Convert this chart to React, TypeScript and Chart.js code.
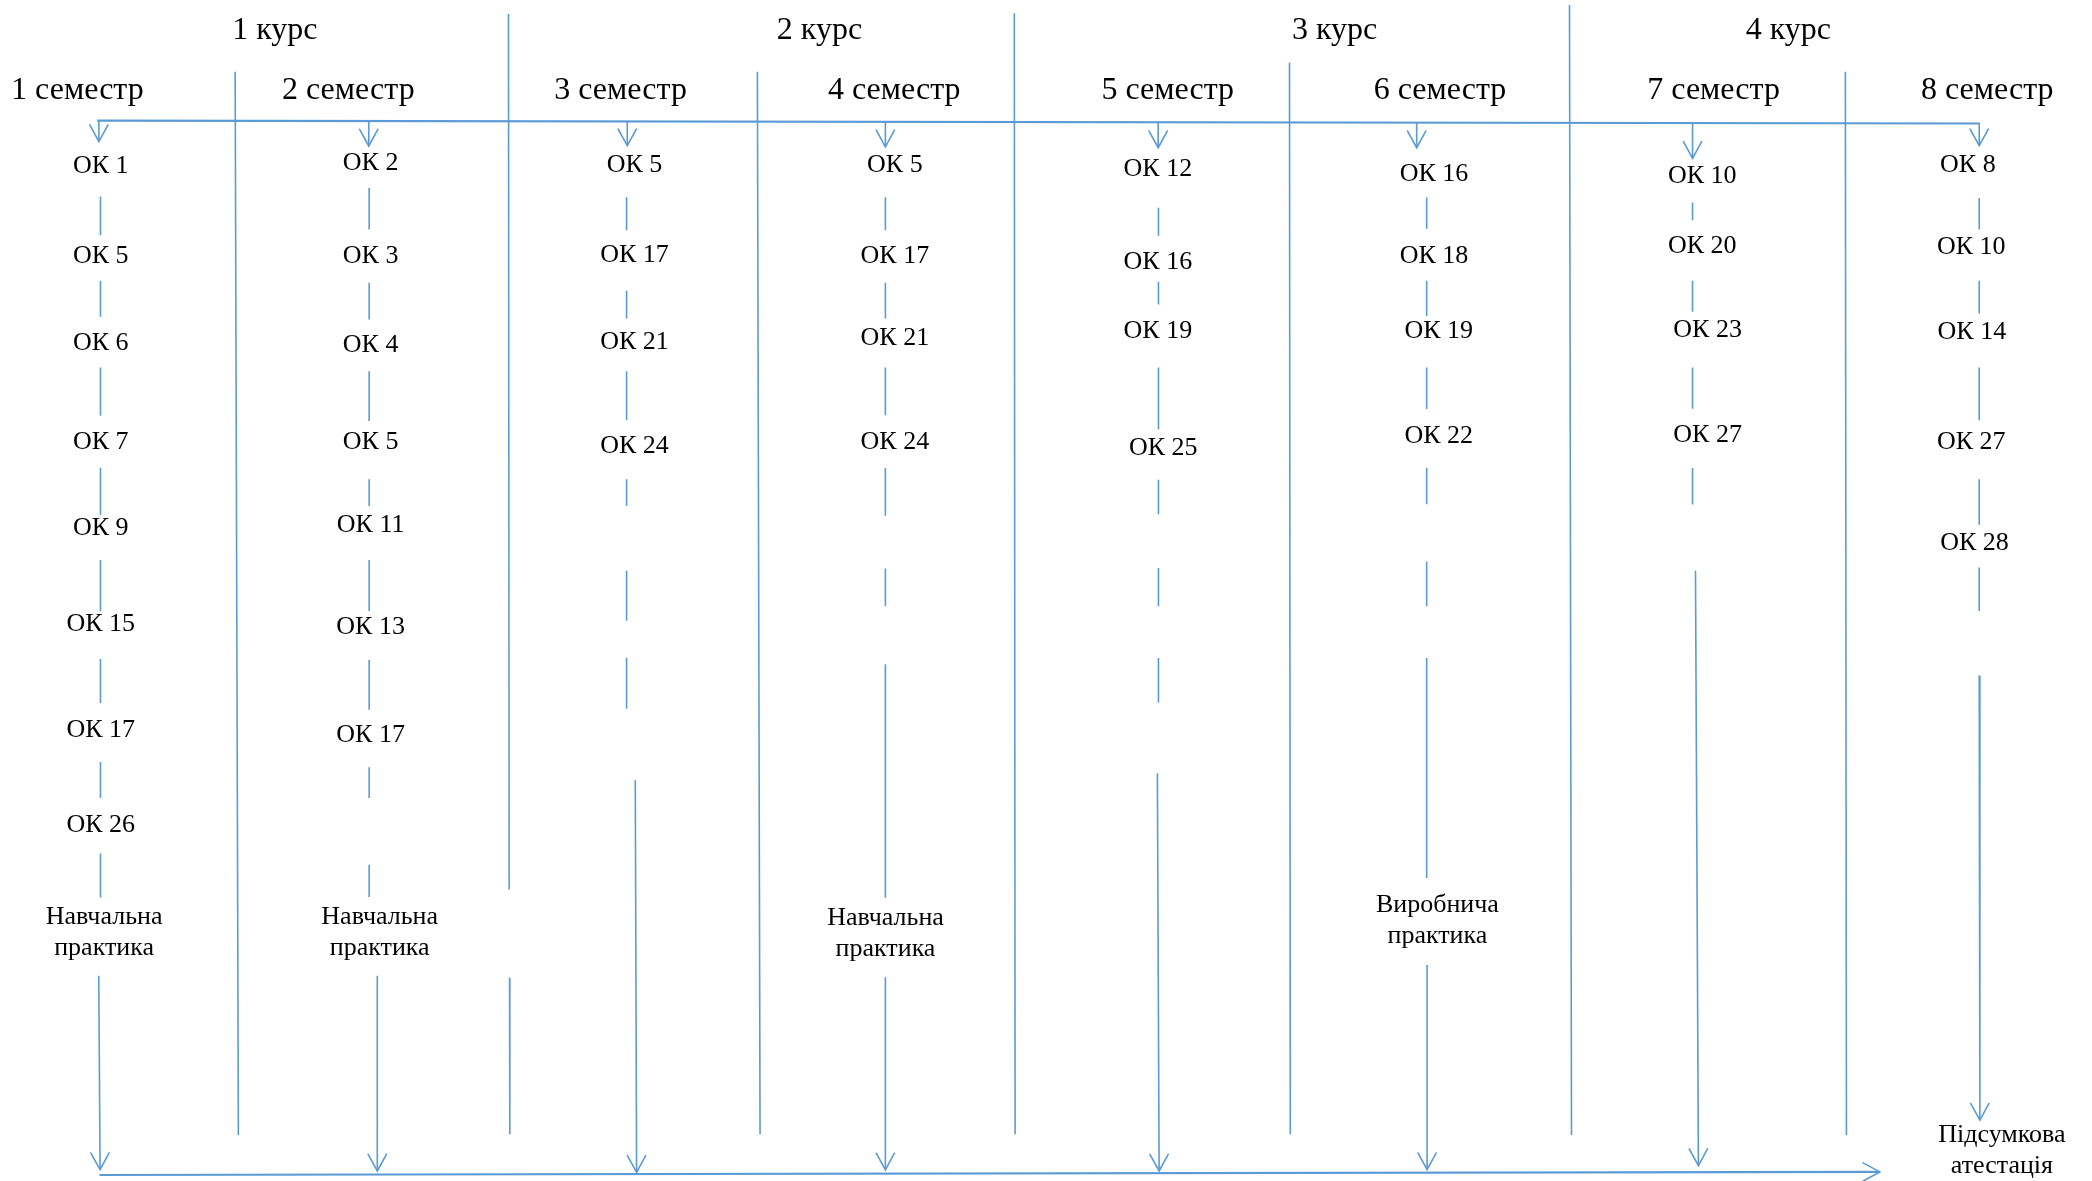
import { useEffect, useRef } from "react";
import { Chart, registerables } from "chart.js";

Chart.register(...registerables);

// Diagram coordinate space (units of the layout grid)
const VIEW_W = 1567.5;
const VIEW_H = 883.5;

// ---------- headers ----------
const courses = ["1 курс", "2 курс", "3 курс", "4 курс"];
const courseLabelX = [206, 614, 1000, 1340];
const courseLabelY = 23;

const semesters = ["1 семестр", "2 семестр", "3 семестр", "4 семестр", "5 семестр", "6 семестр", "7 семестр", "8 семестр"];
const semesterLabelX = [58, 261, 465, 670, 875, 1079, 1284, 1489];
const semesterLabelY = 67.5;

// ---------- dividers: [xTop, yTop, xBottom, yBottom] ----------
const courseDividers = [
  [381, 10.5, 381.5, 665.4],
  [381.8, 731.4, 382, 848.5],
  [760, 10, 760.6, 848.6],
  [1176, 3.7, 1177.5, 849],
];
const semesterDividers = [
  [176.2, 53.6, 178.6, 849],
  [567.5, 53.6, 569.5, 848.5],
  [966.2, 47, 966.8, 848.6],
  [1382.7, 53.6, 1383.5, 849],
];

// ---------- flow lines ----------
const topLine = [72.8, 90.3, 1483.5, 92.4];
const bottomLine = [74.5, 879, 1408.5, 876.7];

// ---------- semester columns ----------
const columnX = [75.3, 276.6, 469.5, 663.4, 868, 1069, 1268.2, 1483];
const topArrowX = [74.1, 276.3, 470, 663.4, 867.8, 1061.5, 1268.2, 1483];
const topArrowTipY = [105.9, 109.2, 109, 109.8, 110.5, 110.5, 118.5, 109];

const sem1Subjects = ["ОК 1", "ОК 5", "ОК 6", "ОК 7", "ОК 9", "ОК 15", "ОК 17", "ОК 26"];
const sem1Y = [124.5, 192, 256.5, 330.6, 395, 467, 546, 617];
const sem1X = [75.5, 75.5, 75.5, 75.5, 75.5, 75.5, 75.5, 75.5];
const sem1Links = [[147, 176], [210, 237], [275, 311], [350, 385], [419, 457], [493, 526], [570, 597], [638.5, 671.5]];

const sem2Subjects = ["ОК 2", "ОК 3", "ОК 4", "ОК 5", "ОК 11", "ОК 13", "ОК 17"];
const sem2Y = [122, 192, 258, 330.6, 393, 469, 550];
const sem2X = [277.7, 277.7, 277.7, 277.7, 277.7, 277.7, 277.7];
const sem2Links = [[140.5, 171.6], [211.6, 239], [277.7, 315], [358.5, 378.5], [419, 457], [493.5, 531], [574, 597], [647, 671]];

const sem3Subjects = ["ОК 5", "ОК 17", "ОК 21", "ОК 24"];
const sem3Y = [123.8, 191, 256, 334.1];
const sem3X = [475.4, 475.4, 475.4, 475.4];
const sem3Links = [[147.5, 172.2], [217.6, 238.3], [277.7, 314.4], [358.5, 378.5], [426.9, 464.3], [492, 530.3]];

const sem4Subjects = ["ОК 5", "ОК 17", "ОК 21", "ОК 24"];
const sem4Y = [123.8, 191.6, 253.3, 331.1];
const sem4X = [670.5, 670.5, 670.5, 670.5];
const sem4Links = [[147.5, 172.2], [211.6, 238.3], [275, 310.7], [350.1, 385.8], [425.2, 453.6], [497, 671.6]];

const sem5Subjects = ["ОК 12", "ОК 16", "ОК 19", "ОК 25"];
const sem5Y = [126.3, 196.3, 247.8, 335.2];
const sem5X = [867.6, 867.6, 867.6, 871.6];
const sem5Links = [[155.4, 176.4], [210.7, 227.8], [275, 321.4], [358.9, 384.7], [425, 453.5], [492.3, 525.6]];

const sem6Subjects = ["ОК 16", "ОК 18", "ОК 19", "ОК 22"];
const sem6Y = [130, 191.5, 247.8, 326.6];
const sem6X = [1074.5, 1074.5, 1078, 1078];
const sem6Links = [[147.7, 171.2], [210, 236.4], [275, 306], [350, 377.2], [420, 453.5], [492.3, 656.9]];

const sem7Subjects = ["ОК 10", "ОК 20", "ОК 23", "ОК 27"];
const sem7Y = [131.5, 183.9, 247.3, 325.7];
const sem7X = [1275.5, 1275.5, 1279.5, 1279.5];
const sem7Links = [[151.5, 164.8], [210, 233.3], [275, 305.7], [350.1, 377.5]];

const sem8Subjects = ["ОК 8", "ОК 10", "ОК 14", "ОК 27", "ОК 28"];
const sem8Y = [123.8, 184.9, 248.3, 331.1, 406.2];
const sem8X = [1474.5, 1477, 1477.5, 1477, 1479.5];
const sem8Links = [[148.2, 171.6], [210, 234.6], [275, 314.4], [358.5, 392.5], [424.6, 457]];

// bottom arrows per column: [xStart, yStart, xEnd, yEnd]
const bottomArrows = [
  [74, 730, 75, 875],
  [282.7, 730, 282.7, 876],
  [476, 583.7, 477, 877],
  [663.4, 731, 663.4, 875.2],
  [867.2, 578.4, 868.5, 876],
  [1069.3, 722, 1069.3, 875],
  [1270.4, 427, 1272.6, 872],
  [1483, 505.3, 1483.5, 838],
];

// ---------- practice / final labels ----------
const practiceLabels = [
  ["Навчальна", "практика"],
  ["Навчальна", "практика"],
  ["Навчальна", "практика"],
  ["Виробнича", "практика"],
  ["Підсумкова", "атестація"],
];
const practiceX = [78, 284.5, 663.5, 1077, 1500];
const practiceY = [698, 698, 698.4, 689, 861];

const LINE_COLOR = "#5B9BD5";
const FONT_FAMILY = "'Liberation Serif', 'Times New Roman', serif";

type Pt = { x: number; y: number | null };

function segData(segs: number[][]): Pt[] {
  const out: Pt[] = [];
  segs.forEach(([x0, y0, x1, y1]) => {
    out.push({ x: x0, y: y0 }, { x: x1, y: y1 }, { x: x1, y: null });
  });
  return out;
}

const semSubjects = [sem1Subjects, sem2Subjects, sem3Subjects, sem4Subjects, sem5Subjects, sem6Subjects, sem7Subjects, sem8Subjects];
const semY = [sem1Y, sem2Y, sem3Y, sem4Y, sem5Y, sem6Y, sem7Y, sem8Y];
const semX = [sem1X, sem2X, sem3X, sem4X, sem5X, sem6X, sem7X, sem8X];
const semLinks = [sem1Links, sem2Links, sem3Links, sem4Links, sem5Links, sem6Links, sem7Links, sem8Links];

function topLineYAt(x: number) {
  const [x0, y0, x1, y1] = topLine;
  return y0 + ((x - x0) / (x1 - x0)) * (y1 - y0);
}

export default function App() {
  const ref = useRef<HTMLCanvasElement | null>(null);

  useEffect(() => {
    document.body.style.margin = "0";
    const canvas = ref.current;
    if (!canvas) return;

    const linkSegs: number[][] = [];
    semLinks.forEach((links, i) => {
      links.forEach(([a, b]) => linkSegs.push([columnX[i], a, columnX[i], b]));
    });
    const topShafts = topArrowX.map((x, i) => [x, topLineYAt(x), x, topArrowTipY[i]]);

    const arrowSegs: number[][] = [...topShafts, ...bottomArrows, bottomLine];

    const base = {
      showLine: true,
      pointRadius: 0,
      pointHoverRadius: 0,
      borderColor: LINE_COLOR,
      backgroundColor: LINE_COLOR,
      fill: false,
      spanGaps: false,
    };

    const datasets: any[] = [
      { ...base, label: "course", data: segData(courseDividers), borderWidth: 1.6 },
      { ...base, label: "semester", data: segData(semesterDividers), borderWidth: 1.6 },
      { ...base, label: "top", data: segData([topLine]), borderWidth: 2.2 },
      { ...base, label: "links", data: segData(linkSegs), borderWidth: 1.6 },
      { ...base, label: "arrows", data: segData(arrowSegs.slice(0, -1)), borderWidth: 1.6 },
      { ...base, label: "bottom", data: segData([bottomLine]), borderWidth: 2.2 },
    ];

    const arrowHeads = {
      id: "arrowHeads",
      afterDatasetsDraw(chart: any) {
        const { ctx, scales } = chart;
        const sx = (v: number) => scales.x.getPixelForValue(v);
        const sy = (v: number) => scales.y.getPixelForValue(v);
        ctx.save();
        ctx.strokeStyle = LINE_COLOR;
        ctx.lineWidth = 1.6;
        ctx.lineCap = "round";
        arrowSegs.forEach(([x0, y0, x1, y1]) => {
          const px0 = sx(x0), py0 = sy(y0), px1 = sx(x1), py1 = sy(y1);
          const ang = Math.atan2(py1 - py0, px1 - px0);
          const len = 19;
          const spread = 0.5;
          ctx.beginPath();
          ctx.moveTo(px1 - len * Math.cos(ang - spread), py1 - len * Math.sin(ang - spread));
          ctx.lineTo(px1, py1);
          ctx.lineTo(px1 - len * Math.cos(ang + spread), py1 - len * Math.sin(ang + spread));
          ctx.stroke();
        });
        ctx.restore();
      },
    };

    const textLabels = {
      id: "textLabels",
      afterDatasetsDraw(chart: any) {
        const { ctx, scales } = chart;
        const sx = (v: number) => scales.x.getPixelForValue(v);
        const sy = (v: number) => scales.y.getPixelForValue(v);
        ctx.save();
        ctx.fillStyle = "#000";
        ctx.textAlign = "center";
        ctx.textBaseline = "middle";

        ctx.font = `32px ${FONT_FAMILY}`;
        courses.forEach((t, i) => ctx.fillText(t, sx(courseLabelX[i]), sy(courseLabelY)));
        semesters.forEach((t, i) => ctx.fillText(t, sx(semesterLabelX[i]), sy(semesterLabelY)));

        ctx.font = `26px ${FONT_FAMILY}`;
        semSubjects.forEach((list, i) => {
          list.forEach((t, j) => ctx.fillText(t, sx(semX[i][j]), sy(semY[i][j])));
        });

        const lineGap = 31;
        practiceLabels.forEach((lines, i) => {
          const cy = sy(practiceY[i]);
          lines.forEach((t, k) => {
            ctx.fillText(t, sx(practiceX[i]), cy + (k - (lines.length - 1) / 2) * lineGap);
          });
        });
        ctx.restore();
      },
    };

    const chart = new Chart(canvas, {
      type: "scatter",
      data: { datasets },
      options: {
        responsive: false,
        maintainAspectRatio: false,
        animation: false,
        devicePixelRatio: 1,
        layout: { padding: 0 },
        events: [],
        scales: {
          x: { type: "linear", min: 0, max: VIEW_W, display: false },
          y: { type: "linear", min: 0, max: VIEW_H, reverse: true, display: false },
        },
        plugins: {
          legend: { display: false },
          tooltip: { enabled: false },
        },
      },
      plugins: [arrowHeads, textLabels],
    } as any);

    return () => chart.destroy();
  }, []);

  return (
    <div style={{ width: 2092, height: 1181, background: "#fff" }}>
      <canvas ref={ref} width={2092} height={1181} style={{ display: "block", width: 2092, height: 1181 }} />
    </div>
  );
}
